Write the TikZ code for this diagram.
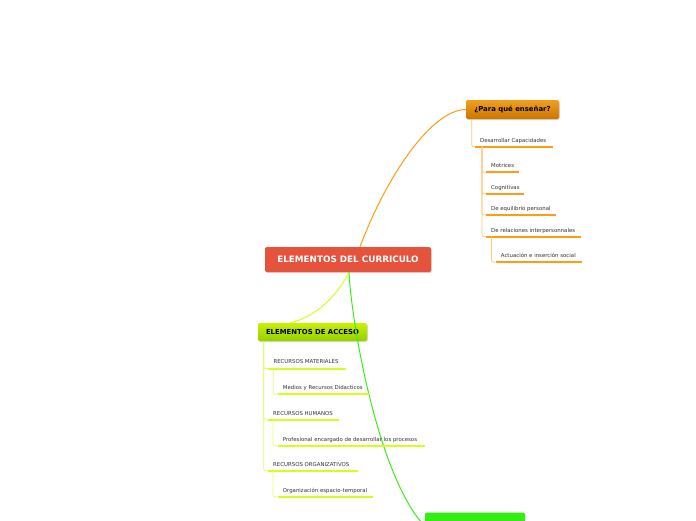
\documentclass[tikz,border=0pt]{standalone}
\usepackage{fontspec}
\setmainfont{DejaVu Sans}
\usetikzlibrary{shadows,calc}
\definecolor{rootred}{HTML}{E6533D}
\definecolor{orgtop}{HTML}{F0A020}
\definecolor{orgbot}{HTML}{CC7400}
\definecolor{orgline}{HTML}{FF9C10}
\definecolor{orgthin}{HTML}{FFC878}
\definecolor{acctop}{HTML}{C8F200}
\definecolor{accbot}{HTML}{96CF00}
\definecolor{accline}{HTML}{D4FF1A}
\definecolor{accthin}{HTML}{DDFF70}
\definecolor{grnnode}{HTML}{33EE11}
\definecolor{grnline}{HTML}{3BEE1A}
\definecolor{txtgray}{HTML}{333333}
\newcommand\leaf[6]{%
  \coordinate (#1-l) at (#2,#4);
  \coordinate (#1-r) at (#3,#4);
  \node[leaftext, anchor=base west] (#1) at ($(#1-l)+(5,-4.7)$) {#6};
  \draw[#5] (#1-l) -- (#1-r);
}
\begin{document}
\begin{tikzpicture}[x=1pt,y=-1pt,
  shadowed/.style={drop shadow={shadow xshift=0.8pt, shadow yshift=-1pt, opacity=0.3}},
  rootbox/.style={rectangle, rounded corners=1.5pt, fill=rootred, text=white,
    font=\bfseries\fontsize{8.8}{10}\selectfont, minimum width=166pt, minimum height=25pt, inner sep=0pt, shadowed},
  orgbox/.style={rectangle, rounded corners=2pt, top color=orgtop, bottom color=orgbot, text=black,
    font=\bfseries\fontsize{6.9}{8}\selectfont, minimum width=93pt, minimum height=19pt, inner sep=0pt, shadowed},
  accbox/.style={rectangle, rounded corners=2pt, top color=acctop, bottom color=accbot, text=black,
    font=\bfseries\fontsize{6.9}{8}\selectfont, minimum width=109pt, minimum height=18pt, inner sep=0pt, shadowed},
  grnbox/.style={rectangle, rounded corners=2pt, fill=grnnode, minimum width=100pt, minimum height=27pt, inner sep=0pt},
  leaftext/.style={inner sep=0pt, text=txtgray, font=\fontsize{5.4}{6}\selectfont},
  oline/.style={draw=orgline, line width=2pt},
  othin/.style={draw=orgthin, line width=0.8pt, rounded corners=2pt},
  aline/.style={draw=accline, line width=2pt},
  athin/.style={draw=accthin, line width=0.8pt, rounded corners=2pt},
]
\useasboundingbox (0,0) rectangle (696,520);
\clip (0,0) rectangle (696,520);
\fill[white] (0,0) rectangle (696,520);

% main nodes
\node[rootbox] (root) at (348,259.5) {ELEMENTOS DEL CURRICULO};
\node[orgbox] (pq) at (512.5,109.5) {¿Para qué enseñar?};
\node[accbox] (acc) at (312.5,332) {ELEMENTOS DE ACCESO};
\node[grnbox] (gn) at (475,526) {};

% main connectors
\draw[orgline, line width=1pt] ([xshift=12pt]root.north) .. controls (385,180) and (430,110) .. (pq.west);
\draw[accline, line width=1pt] ([xshift=1pt]root.south) .. controls (335,300) and (312,318) .. ([xshift=-22.5pt]acc.north);
\draw[grnline, line width=1pt] ([xshift=1pt]root.south) .. controls (352,330) and (380,480) .. (gn.west);

% orange branch
\leaf{des}{475}{552.7}{146.7}{oline}{Desarrollar Capacidades}
\leaf{mot}{486}{518.7}{172.3}{oline}{Motrices}
\leaf{cog}{486}{524}{193.8}{oline}{Cognitivas}
\leaf{equ}{486}{556.3}{215}{oline}{De equilibrio personal}
\leaf{rel}{486}{580.7}{236.7}{oline}{De relaciones interpersonnales}
\leaf{act}{495.7}{581.7}{262.3}{oline}{Actuación e inserción social}
\draw[othin] ([xshift=6pt]pq.south west) |- (des-l);
\draw[othin] ([xshift=7pt]des-l) |- (mot-l);
\draw[othin] ([xshift=7pt]des-l) |- (cog-l);
\draw[othin] ([xshift=7pt]des-l) |- (equ-l);
\draw[othin] ([xshift=7pt]des-l) |- (rel-l);
\draw[othin] ([xshift=5.5pt]rel-l) |- (act-l);

% green-yellow branch
\leaf{rm}{268.3}{345.7}{368.6}{aline}{RECURSOS MATERIALES}
\leaf{med}{277.7}{369}{394.3}{aline}{Medios y Recursos Didacticos}
\leaf{rh}{268}{339.3}{420}{aline}{RECURSOS HUMANOS}
\leaf{prof}{277.7}{425}{445.7}{aline}{Profesional encargado de desarrollar los procesos}
\leaf{ro}{268}{357.7}{471}{aline}{RECURSOS ORGANIZATIVOS}
\leaf{org}{277.7}{373.3}{496.7}{aline}{Organización espacio-temporal}
\draw[athin] ([xshift=6pt]acc.south west) |- (rm-l);
\draw[athin] ([xshift=6pt]acc.south west) |- (rh-l);
\draw[athin] ([xshift=6pt]acc.south west) |- (ro-l);
\draw[athin] ([xshift=5pt]rm-l) |- (med-l);
\draw[athin] ([xshift=5pt]rh-l) |- (prof-l);
\draw[athin] ([xshift=5pt]ro-l) |- (org-l);
\end{tikzpicture}
\end{document}
